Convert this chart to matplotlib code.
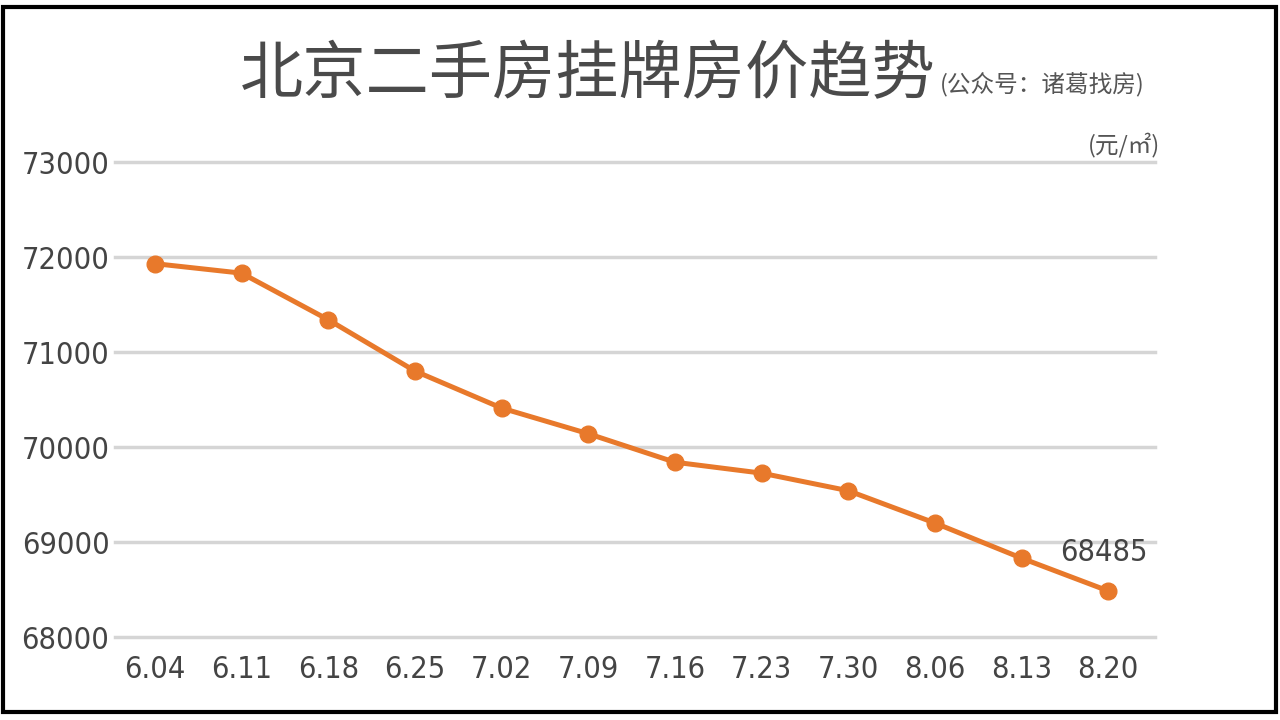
import matplotlib
matplotlib.use("Agg")
import matplotlib.pyplot as plt
from matplotlib.patches import Rectangle
from matplotlib import font_manager

dates = ["6.04", "6.11", "6.18", "6.25", "7.02", "7.09", "7.16", "7.23", "7.30", "8.06", "8.13", "8.20"]
prices = [71930, 71830, 71340, 70800, 70410, 70140, 69840, 69725, 69540, 69200, 68830, 68485]
yticks = [68000, 69000, 70000, 71000, 72000, 73000]

names = {f.name for f in font_manager.fontManager.ttflist}
num_font = "Liberation Sans Narrow" if "Liberation Sans Narrow" in names else "DejaVu Sans"
num_kw = dict(family=num_font, fontstretch="condensed")

plt.rcParams['font.family'] = ["Noto Sans CJK SC", "DejaVu Sans"]

fig = plt.figure(figsize=(12.8, 7.2), dpi=100)
fig.patch.set_facecolor("white")
ax = fig.add_axes([115/1280, 1-637/720, (1155-115)/1280, (637-162)/720])

x = list(range(len(dates)))
ax.plot(x, prices, color="#E8792B", lw=3.6, marker="o", ms=12, mfc="#E8792B", mec="#E8792B", zorder=3)

ax.set_ylim(68000, 73000)
ax.set_xlim(-0.46, 11.54)
ax.set_yticks(yticks)
ax.set_yticklabels([str(v) for v in yticks], fontsize=22, color="#444444", **num_kw)
ax.set_xticks(x)
ax.set_xticklabels(dates, fontsize=22, color="#444444", **num_kw)
ax.tick_params(axis="both", length=0)
ax.tick_params(axis="y", pad=4)
ax.tick_params(axis="x", pad=13)
ax.grid(axis="y", color="#D5D5D5", lw=2.5, zorder=0)
for gl in ax.get_ygridlines():
    gl.set_clip_on(False)
for s in ax.spines.values():
    s.set_visible(False)

ax.annotate(f"{prices[-1]}", (x[-1], prices[-1]), xytext=(-3, 17), textcoords="offset points",
            ha="center", va="bottom", fontsize=22, color="#444444", **num_kw)

fig.text(588/1280, 1-75/720, "北京二手房挂牌房价趋势", ha="center", va="center",
         fontsize=45.5, color="#4A4A4A")
fig.text(940/1280, 1-85/720, "(公众号：诸葛找房)", ha="left", va="center",
         fontsize=17, color="#555555")
fig.text(1160/1280, 1-145/720, "(元/㎡)", ha="right", va="center",
         fontsize=17, color="#555555")

fig.patches.append(Rectangle((3/1280, 1-712/720), 1273/1280, 705/720, transform=fig.transFigure,
                             fill=False, edgecolor="black", lw=3))

fig.savefig("out.png", dpi=100, facecolor="white")
